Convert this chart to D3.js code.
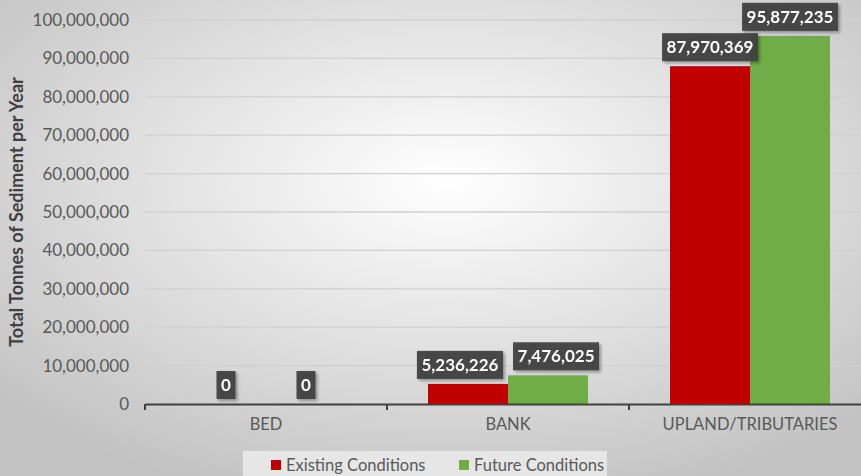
<!DOCTYPE html>
<html>
<head>
<meta charset="utf-8">
<script src="https://cdn.jsdelivr.net/npm/d3@7"></script>
<style>
  html, body { margin: 0; padding: 0; }
  body { width: 861px; height: 476px; overflow: hidden; }
  svg { display: block; font-family: Lato, "Open Sans", sans-serif; }
</style>
</head>
<body>
<svg id="chart" width="861" height="476"></svg>
<script>
// Sediment sources, tonnes per year
const categories = ["BED", "BANK", "UPLAND/TRIBUTARIES"];
const seriesNames = ["Existing Conditions", "Future Conditions"];
const existingValues = [0, 5236226, 87970369];
const futureValues = [0, 7476025, 95877235];
const yTicks = [0, 10000000, 20000000, 30000000, 40000000, 50000000, 60000000, 70000000, 80000000, 90000000, 100000000];
const colors = ["#c00000", "#70ad47"];

const W = 861, H = 476;
const margin = { left: 145, top: 20, bottom: 72 };
const plotRight = margin.left + 3 * 242;
const FONT = "Lato, 'Open Sans', sans-serif";

const svg = d3.select("#chart");
const defs = svg.append("defs");

const bg = defs.append("radialGradient").attr("id", "bgGrad")
  .attr("cx", "52%").attr("cy", "38%").attr("r", "70%");
bg.append("stop").attr("offset", "0%").attr("stop-color", "#ffffff");
bg.append("stop").attr("offset", "100%").attr("stop-color", "#c2c2c2");

const shadow = defs.append("filter").attr("id", "shadow")
  .attr("x", "-20%").attr("y", "-30%").attr("width", "150%").attr("height", "170%");
shadow.append("feDropShadow").attr("dx", 2).attr("dy", 2).attr("stdDeviation", 1.5)
  .attr("flood-color", "#000").attr("flood-opacity", 0.35);

svg.append("rect").attr("width", W).attr("height", H).attr("fill", "url(#bgGrad)");

const x0 = d3.scaleBand().domain(categories).range([margin.left, plotRight]).paddingInner(0).paddingOuter(0);
const x1 = d3.scaleBand().domain(seriesNames).range([0, x0.bandwidth()]).paddingOuter(0.5125).paddingInner(0);
const y = d3.scaleLinear().domain([0, 100000000]).range([H - margin.bottom, margin.top]);

// Gridlines
svg.append("g").selectAll("line").data(yTicks.filter(d => d > 0)).join("line")
  .attr("x1", margin.left).attr("x2", W)
  .attr("y1", d => y(d)).attr("y2", d => y(d))
  .attr("stroke", "#d0d0d0").attr("stroke-width", 1.3);

// Y axis labels
const yAxis = d3.axisLeft(y).tickValues(yTicks).tickFormat(d3.format(",")).tickSize(0).tickPadding(16);
const yg = svg.append("g").attr("transform", `translate(${margin.left},0)`).call(yAxis);
yg.select(".domain").remove();
yg.selectAll("text").attr("fill", "#595959").style("font-size", "17px").style("font-family", FONT);

// Bars
const series = [existingValues, futureValues];
const barData = [];
categories.forEach((c, i) => {
  seriesNames.forEach((s, j) => barData.push({ cat: c, ser: s, j, v: series[j][i] }));
});

svg.append("g").selectAll("rect").data(barData).join("rect")
  .attr("x", d => x0(d.cat) + x1(d.ser))
  .attr("y", d => y(d.v))
  .attr("width", x1.bandwidth())
  .attr("height", d => y(0) - y(d.v))
  .attr("fill", d => colors[d.j]);

// X axis
const xAxis = d3.axisBottom(x0).tickSize(0).tickPadding(14);
const xg = svg.append("g").attr("transform", `translate(0,${y(0)})`).call(xAxis);
xg.select(".domain").attr("stroke", "#404040").attr("stroke-width", 2);
xg.selectAll("text").attr("fill", "#595959").style("font-size", "16.5px").style("font-family", FONT);
// Category dividers
xg.selectAll("line.div").data(categories).join("line").attr("class", "div")
  .attr("x1", d => x0(d)).attr("x2", d => x0(d)).attr("y1", 0).attr("y2", 6)
  .attr("stroke", "#404040").attr("stroke-width", 2);

// Axis title
svg.append("text")
  .attr("transform", `translate(23,${(y(0) + y(100000000)) / 2}) rotate(-90)`)
  .attr("text-anchor", "middle")
  .attr("fill", "#404040").style("font-size", "18px").style("font-weight", "bold")
  .text("Total Tonnes of Sediment per Year");

// Value labels: dark boxes above each bar, nudged apart where they collide
const fmt = d3.format(",");
const labelG = svg.append("g");
const labels = barData.map(d => {
  const g = labelG.append("g").attr("filter", "url(#shadow)");
  const rect = g.append("rect").attr("fill", "#404040").attr("fill-opacity", 0.95);
  const t = g.append("text").attr("fill", "#fff").style("font-size", "17px").style("font-weight", "bold")
    .attr("text-anchor", "middle").text(fmt(d.v));
  const bb = t.node().getBBox();
  const w = bb.width + 9, h = 28;
  const cx = x0(d.cat) + x1(d.ser) + x1.bandwidth() / 2;
  const bottom = y(d.v) - 5;
  return { g, rect, t, w, h, cx, top: bottom - h };
});
for (let i = 0; i < labels.length - 1; i++) {
  const a = labels[i], b = labels[i + 1];
  const hOverlap = (a.cx + a.w / 2 + 4) - (b.cx - b.w / 2);
  const vOverlap = !(a.top + a.h <= b.top || b.top + b.h <= a.top);
  if (hOverlap > 0 && vOverlap && a.cx < b.cx) {
    a.cx -= hOverlap / 2 + 3;
    b.cx += hOverlap / 2 + 3;
  }
}
labels.forEach(l => {
  l.rect.attr("x", l.cx - l.w / 2).attr("y", l.top).attr("width", l.w).attr("height", l.h);
  l.t.attr("x", l.cx).attr("y", l.top + 20);
});

// Legend
const legend = svg.append("g");
legend.append("rect").attr("x", 243).attr("y", 451).attr("width", 364).attr("height", 30)
  .attr("fill", "#e6e6e6");
const lx = [271, 459];
seriesNames.forEach((s, i) => {
  legend.append("rect").attr("x", lx[i]).attr("y", 460).attr("width", 10).attr("height", 10).attr("fill", colors[i]);
  legend.append("text").attr("x", lx[i] + 15).attr("y", 471).attr("fill", "#595959")
    .style("font-size", "16.5px").text(s);
});
</script>
</body>
</html>
